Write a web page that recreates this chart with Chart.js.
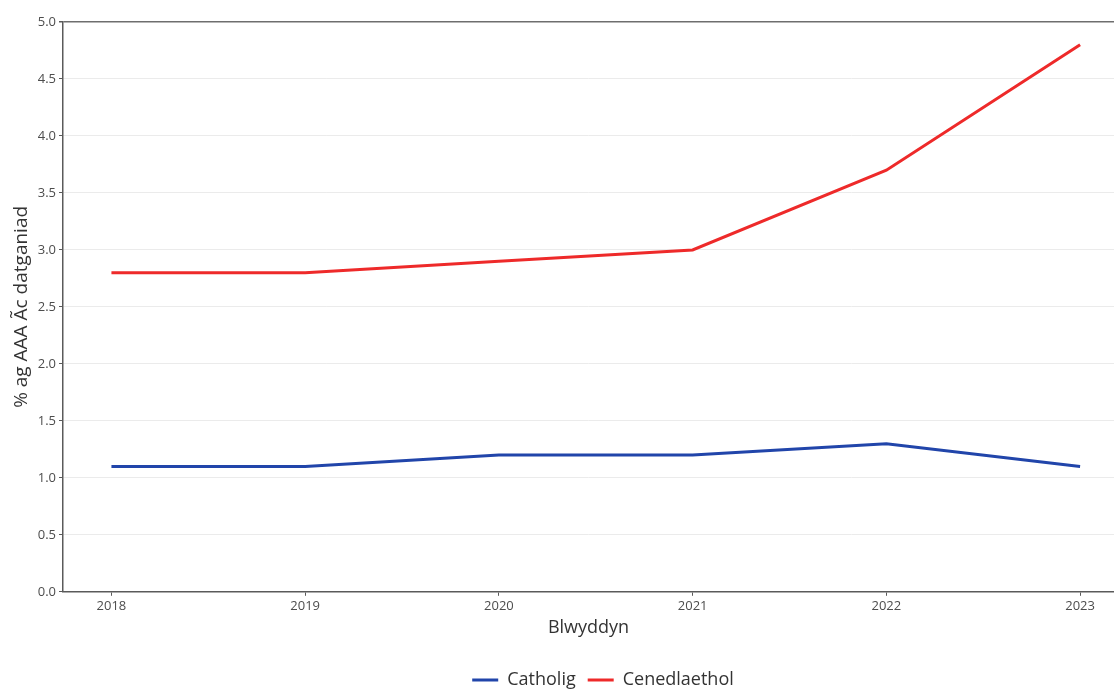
<!DOCTYPE html>
<html>
<head>
<meta charset="utf-8">
<script src="https://cdn.jsdelivr.net/npm/chart.js@4/dist/chart.umd.min.js"></script>
<style>
    html, body { margin: 0; padding: 0; background: #fff; }
    #wrap { width: 1114px; height: 689px; position: relative; }
</style>
</head>
<body>
<div id="wrap"><canvas id="chart"></canvas></div>
<script>
// Data
const years = [2018, 2019, 2020, 2021, 2022, 2023];
const catholig = [1.1, 1.1, 1.2, 1.2, 1.3, 1.1];
const cenedlaethol = [2.8, 2.8, 2.9, 3.0, 3.7, 4.8];
const yTicks = [0, 0.5, 1, 1.5, 2, 2.5, 3, 3.5, 4, 4.5, 5];

const axisColor = '#5a5a5a';
const textColor = '#4d4d4d';
const fontFamily = '"Open Sans", "Noto Sans", sans-serif';

function toPoints(values) {
    return years.map((yr, i) => ({ x: yr, y: values[i] }));
}

// legend in the reference sits right of centre and close to the bottom edge
const legendShift = {
    id: 'legendShift',
    afterLayout(chart) {
        const lg = chart.legend;
        if (lg) {
            lg.left += 92;
            lg.top += 10;
        }
    }
};

new Chart(document.getElementById('chart'), {
    type: 'line',
    plugins: [legendShift],
    data: {
        datasets: [{
            label: 'Catholig',
            data: toPoints(catholig),
            borderColor: '#2145aa',
            backgroundColor: '#2145aa',
            borderWidth: 3,
            pointRadius: 0,
            tension: 0
        }, {
            label: 'Cenedlaethol',
            data: toPoints(cenedlaethol),
            borderColor: '#ee2a2a',
            backgroundColor: '#ee2a2a',
            borderWidth: 3,
            pointRadius: 0,
            tension: 0
        }]
    },
    options: {
        responsive: true,
        maintainAspectRatio: false,
        animation: false,
        layout: { padding: { top: 22, right: 0, bottom: 0, left: 0 } },
        plugins: {
            legend: {
                position: 'bottom',
                labels: {
                    usePointStyle: true,
                    pointStyle: 'line',
                    pointStyleWidth: 26,
                    color: '#333',
                    font: { family: fontFamily, size: 18 },
                    padding: 12
                }
            },
            tooltip: { enabled: false }
        },
        scales: {
            x: {
                type: 'linear',
                min: 2017.75,
                max: 2023.175,
                afterBuildTicks: (scale) => {
                    scale.ticks = years.map(v => ({ value: v }));
                },
                grid: {
                    drawOnChartArea: false,
                    tickLength: 4,
                    tickColor: axisColor
                },
                border: { color: axisColor, width: 1.5 },
                ticks: {
                    color: textColor,
                    font: { family: fontFamily, size: 13 },
                    padding: 3,
                    maxRotation: 0,
                    callback: (v) => String(v)
                },
                title: {
                    display: true,
                    text: 'Blwyddyn',
                    color: '#333',
                    font: { family: fontFamily, size: 18 },
                    padding: { top: 0, bottom: 10 }
                }
            },
            y: {
                min: 0,
                max: 5,
                afterBuildTicks: (scale) => {
                    scale.ticks = yTicks.map(v => ({ value: v }));
                },
                afterFit: (scale) => { scale.width = 63; },
                grid: {
                    color: (ctx) => ctx.tick && ctx.tick.value === 5 ? '#6e6e6e' : '#ebebeb',
                    lineWidth: (ctx) => ctx.tick && ctx.tick.value === 5 ? 1.5 : 1,
                    tickLength: 4,
                    tickColor: axisColor
                },
                border: { color: axisColor, width: 1.5 },
                ticks: {
                    color: textColor,
                    font: { family: fontFamily, size: 13 },
                    padding: 3,
                    callback: (v) => v.toFixed(1)
                },
                title: {
                    display: true,
                    text: '% ag AAA Ãc datganiad',
                    color: '#333',
                    font: { family: fontFamily, size: 19 },
                    padding: { top: 10, bottom: 2 }
                }
            }
        }
    }
});
</script>
</body>
</html>
